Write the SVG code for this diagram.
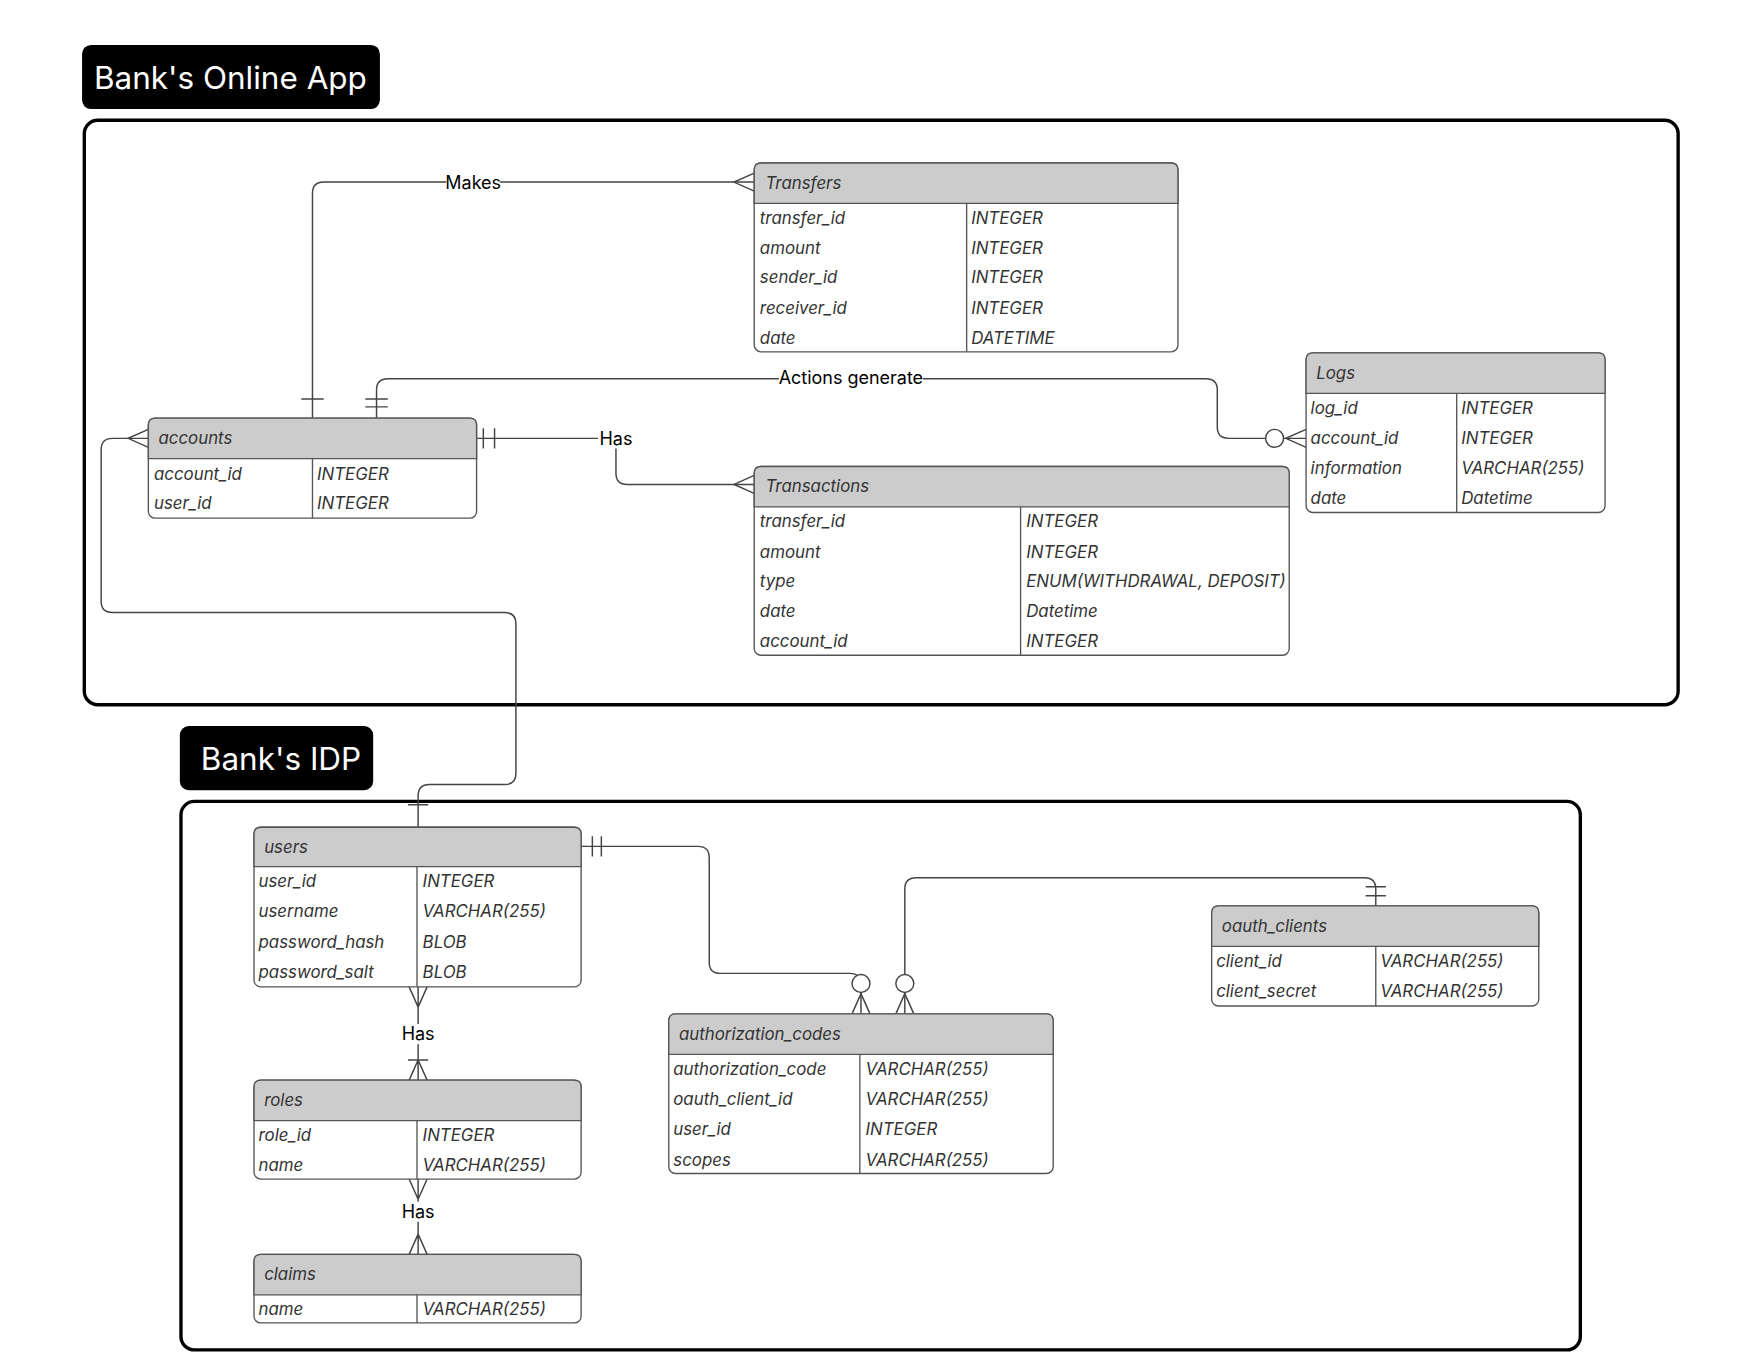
<svg xmlns="http://www.w3.org/2000/svg" width="1760" height="1360" viewBox="0 0 1760 1360">
<style>
.c{fill:none;stroke:#000;stroke-width:3}
.tb{fill:#000}
.tt{fill:#fff;font-family:Inter,"Liberation Sans",sans-serif;font-size:28px}
.box{fill:#fff;stroke:#555;stroke-width:1.2}
.hd{fill:#cccccc;stroke:#555;stroke-width:1.2}
.ln{stroke:#555;stroke-width:1.2;fill:none}
.t{font-family:Inter,"Liberation Sans",sans-serif;font-style:italic;font-size:15px;fill:#333}
.w{fill:none;stroke:#444;stroke-width:1.3}
.lb{font-family:Inter,"Liberation Sans",sans-serif;font-size:16px;fill:#000;text-anchor:middle}
.lbg{fill:#fff}
</style>
<rect width="1760" height="1360" fill="#fff"/>
<g transform="scale(1.124)">
<g id="frame-online"><rect x="75" y="107" width="1418" height="520" rx="12" class="c"/><rect x="73" y="40" width="265" height="57" rx="8" class="tb"/><text x="205" y="79" class="tt" text-anchor="middle">Bank's Online App</text></g>
<g id="frame-idp"><rect x="161" y="713" width="1245" height="488" rx="12" class="c"/><rect x="160" y="646" width="172" height="57" rx="8" class="tb"/><text x="250" y="685" class="tt" text-anchor="middle">Bank's IDP</text></g>

<g id="connectors">
<path class="w" d="M278,372 V172 Q278,162 288,162 H671"/>
<path class="w" d="M268,355 H288 M671,154 L653,162 L671,170"/>
<rect x="397" y="153" width="48" height="18" class="lbg"/><text x="421" y="168" class="lb">Makes</text>
<path class="w" d="M335,372 V347 Q335,337 345,337 H1073 Q1083,337 1083,347 V380 Q1083,390 1093,390 H1162"/>
<path class="w" d="M325,355 H345 M325,362 H345 M1162,382 L1144,390 L1162,398"/>
<circle cx="1134" cy="390" r="8" fill="#fff" stroke="#444" stroke-width="1.3"/>
<rect x="693" y="328" width="128" height="18" class="lbg"/><text x="757" y="342" class="lb">Actions generate</text>
<path class="w" d="M424,390 H548 V421 Q548,431 558,431 H671"/>
<path class="w" d="M430,381 V399 M440,381 V399 M671,423 L653,431 L671,439"/>
<rect x="532" y="381" width="32" height="18" class="lbg"/><text x="548" y="396" class="lb">Has</text>
<path class="w" d="M132,390 H100 Q90,390 90,400 V535 Q90,545 100,545 H449 Q459,545 459,555 V688 Q459,698 449,698 H382 Q372,698 372,708 V736"/>
<path class="w" d="M132,382 L114,390 L132,398 M363,716 H381"/>
<path class="w" d="M517,753 H621 Q631,753 631,763 V856 Q631,866 641,866 H756 Q766,866 766,876 V902"/>
<path class="w" d="M527,744 V762 M535,744 V762 M758,902 L766,884 L774,902"/>
<circle cx="766" cy="875" r="8" fill="#fff" stroke="#444" stroke-width="1.3"/>
<path class="w" d="M1224,806 V791 Q1224,781 1214,781 H815 Q805,781 805,791 V902"/>
<path class="w" d="M1215,789 H1233 M1215,797 H1233 M797,902 L805,884 L813,902"/>
<circle cx="805" cy="875" r="8" fill="#fff" stroke="#444" stroke-width="1.3"/>
<path class="w" d="M372,878 V961 M364,878 L372,896 L380,878 M364,961 L372,943 L380,961 M363,943 H381"/>
<rect x="356" y="911" width="32" height="18" class="lbg"/><text x="372" y="925" class="lb">Has</text>
<path class="w" d="M372,1049 V1116 M364,1049 L372,1067 L380,1049 M364,1116 L372,1098 L380,1116"/>
<rect x="356" y="1069" width="32" height="18" class="lbg"/><text x="372" y="1084" class="lb">Has</text>
</g>

<g id="transfers">
<rect x="671" y="145" width="377" height="168" rx="6" class="box"/>
<path class="hd" d="M671,181 V151 Q671,145 677,145 H1042 Q1048,145 1048,151 V181 Z"/>
<path class="ln" d="M860,181 V313"/>
<text x="681" y="168" class="t">Transfers</text>
<text x="676" y="199" class="t">transfer_id</text><text x="864" y="199" class="t">INTEGER</text>
<text x="676" y="226" class="t">amount</text><text x="864" y="226" class="t">INTEGER</text>
<text x="676" y="252" class="t">sender_id</text><text x="864" y="252" class="t">INTEGER</text>
<text x="676" y="279" class="t">receiver_id</text><text x="864" y="279" class="t">INTEGER</text>
<text x="676" y="306" class="t">date</text><text x="864" y="306" class="t">DATETIME</text>
</g>
<g id="logs">
<rect x="1162" y="314" width="266" height="142" rx="6" class="box"/>
<path class="hd" d="M1162,350 V320 Q1162,314 1168,314 H1422 Q1428,314 1428,320 V350 Z"/>
<path class="ln" d="M1296,350 V456"/>
<text x="1171" y="337" class="t">Logs</text>
<text x="1166" y="368" class="t">log_id</text><text x="1300" y="368" class="t">INTEGER</text>
<text x="1166" y="395" class="t">account_id</text><text x="1300" y="395" class="t">INTEGER</text>
<text x="1166" y="422" class="t">information</text><text x="1300" y="422" class="t">VARCHAR(255)</text>
<text x="1166" y="448" class="t">date</text><text x="1300" y="448" class="t">Datetime</text>
</g>
<g id="accounts">
<rect x="132" y="372" width="292" height="89" rx="6" class="box"/>
<path class="hd" d="M132,408 V378 Q132,372 138,372 H418 Q424,372 424,378 V408 Z"/>
<path class="ln" d="M278,408 V461"/>
<text x="141" y="395" class="t">accounts</text>
<text x="137" y="427" class="t">account_id</text><text x="282" y="427" class="t">INTEGER</text>
<text x="137" y="453" class="t">user_id</text><text x="282" y="453" class="t">INTEGER</text>
</g>
<g id="transactions">
<rect x="671" y="415" width="476" height="168" rx="6" class="box"/>
<path class="hd" d="M671,451 V421 Q671,415 677,415 H1141 Q1147,415 1147,421 V451 Z"/>
<path class="ln" d="M908,451 V583"/>
<text x="681" y="438" class="t">Transactions</text>
<text x="676" y="469" class="t">transfer_id</text><text x="913" y="469" class="t">INTEGER</text>
<text x="676" y="496" class="t">amount</text><text x="913" y="496" class="t">INTEGER</text>
<text x="676" y="522" class="t">type</text><text x="913" y="522" class="t">ENUM(WITHDRAWAL, DEPOSIT)</text>
<text x="676" y="549" class="t">date</text><text x="913" y="549" class="t">Datetime</text>
<text x="676" y="576" class="t">account_id</text><text x="913" y="576" class="t">INTEGER</text>
</g>
<g id="users">
<rect x="226" y="736" width="291" height="142" rx="6" class="box"/>
<path class="hd" d="M226,771 V742 Q226,736 232,736 H511 Q517,736 517,742 V771 Z"/>
<path class="ln" d="M371,771 V878"/>
<text x="235" y="759" class="t">users</text>
<text x="230" y="789" class="t">user_id</text><text x="376" y="789" class="t">INTEGER</text>
<text x="230" y="816" class="t">username</text><text x="376" y="816" class="t">VARCHAR(255)</text>
<text x="230" y="843" class="t">password_hash</text><text x="376" y="843" class="t">BLOB</text>
<text x="230" y="870" class="t">password_salt</text><text x="376" y="870" class="t">BLOB</text>
</g>
<g id="roles">
<rect x="226" y="961" width="291" height="88" rx="6" class="box"/>
<path class="hd" d="M226,997 V967 Q226,961 232,961 H511 Q517,961 517,967 V997 Z"/>
<path class="ln" d="M371,997 V1049"/>
<text x="235" y="984" class="t">roles</text>
<text x="230" y="1015" class="t">role_id</text><text x="376" y="1015" class="t">INTEGER</text>
<text x="230" y="1042" class="t">name</text><text x="376" y="1042" class="t">VARCHAR(255)</text>
</g>
<g id="claims">
<rect x="226" y="1116" width="291" height="61" rx="6" class="box"/>
<path class="hd" d="M226,1152 V1122 Q226,1116 232,1116 H511 Q517,1116 517,1122 V1152 Z"/>
<path class="ln" d="M371,1152 V1177"/>
<text x="235" y="1139" class="t">claims</text>
<text x="230" y="1170" class="t">name</text><text x="376" y="1170" class="t">VARCHAR(255)</text>
</g>
<g id="authorization_codes">
<rect x="595" y="902" width="342" height="142" rx="6" class="box"/>
<path class="hd" d="M595,938 V908 Q595,902 601,902 H931 Q937,902 937,908 V938 Z"/>
<path class="ln" d="M765,938 V1044"/>
<text x="604" y="925" class="t">authorization_codes</text>
<text x="599" y="956" class="t">authorization_code</text><text x="770" y="956" class="t">VARCHAR(255)</text>
<text x="599" y="983" class="t">oauth_client_id</text><text x="770" y="983" class="t">VARCHAR(255)</text>
<text x="599" y="1010" class="t">user_id</text><text x="770" y="1010" class="t">INTEGER</text>
<text x="599" y="1037" class="t">scopes</text><text x="770" y="1037" class="t">VARCHAR(255)</text>
</g>
<g id="oauth_clients">
<rect x="1078" y="806" width="291" height="89" rx="6" class="box"/>
<path class="hd" d="M1078,842 V812 Q1078,806 1084,806 H1363 Q1369,806 1369,812 V842 Z"/>
<path class="ln" d="M1224,842 V895"/>
<text x="1087" y="829" class="t">oauth_clients</text>
<text x="1082" y="860" class="t">client_id</text><text x="1228" y="860" class="t">VARCHAR(255)</text>
<text x="1082" y="887" class="t">client_secret</text><text x="1228" y="887" class="t">VARCHAR(255)</text>
</g>
</g>
</svg>
